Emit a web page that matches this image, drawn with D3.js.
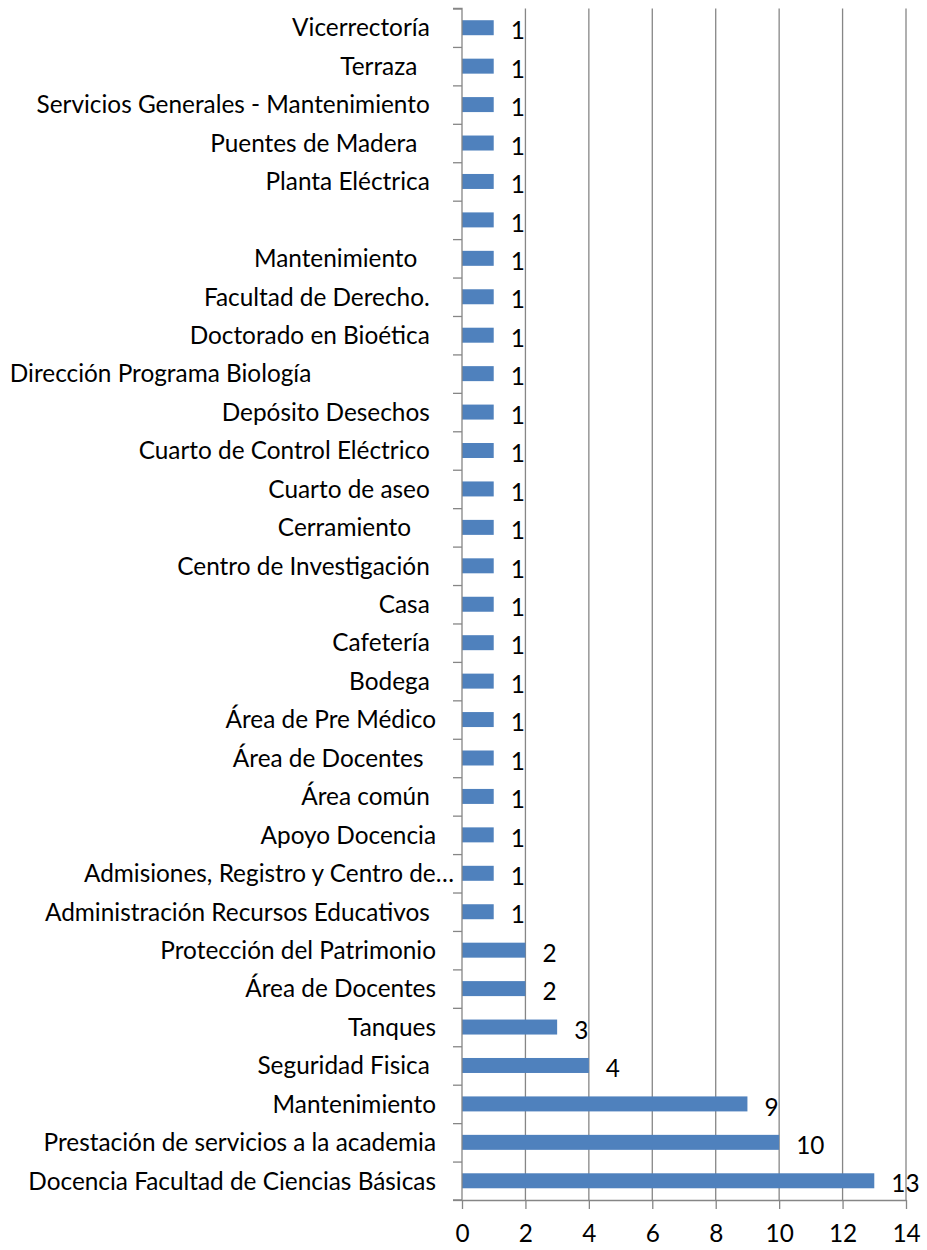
<!DOCTYPE html>
<html lang="es">
<head>
<meta charset="UTF-8">
<title>Barras</title>
<script src="https://d3js.org/d3.v7.min.js"></script>
<style>
  body { margin: 0; background: #fff; }
  text { white-space: pre; font-family: Lato, "Open Sans", sans-serif; fill: #000; }
</style>
</head>
<body>
<script>
// categories from top to bottom (trailing spaces are part of the original labels)
var categories = [
  "Vicerrectoría ",
  "Terraza   ",
  "Servicios Generales - Mantenimiento ",
  "Puentes de Madera   ",
  "Planta Eléctrica ",
  "",
  "Mantenimiento   ",
  "Facultad de Derecho. ",
  "Doctorado en Bioética ",
  "Dirección Programa Biología                    ",
  "Depósito Desechos ",
  "Cuarto de Control Eléctrico ",
  "Cuarto de aseo ",
  "Cerramiento    ",
  "Centro de Investigación ",
  "Casa ",
  "Cafetería ",
  "Bodega ",
  "Área de Pre Médico",
  "Área de Docentes  ",
  "Área común ",
  "Apoyo Docencia",
  "Admisiones, Registro y Centro de…",
  "Administración Recursos Educativos ",
  "Protección del Patrimonio",
  "Área de Docentes",
  "Tanques",
  "Seguridad Fisica ",
  "Mantenimiento",
  "Prestación de servicios a la academia",
  "Docencia Facultad de Ciencias Básicas"
];
var values = [1,1,1,1,1,1,1,1,1,1,1,1,1,1,1,1,1,1,1,1,1,1,1,1,2,2,3,4,9,10,13];
var xTicks = [0, 2, 4, 6, 8, 10, 12, 14];

var width = 927, height = 1250;
var plotLeft = 462, plotRight = 906, plotTop = 8.5, plotBottom = 1200;
var gridColor = "#868686", barColor = "#4F81BD";

var svg = d3.select("body").append("svg")
  .attr("width", width)
  .attr("height", height);

// fit font size so the longest label has the width of the original
var probe = svg.append("text").style("font-size", "25px").text("Docencia Facultad de Ciencias Básicas");
var fs = 25 * 408 / probe.node().getComputedTextLength();
probe.remove();

var x = d3.scaleLinear().domain([0, 14]).range([plotLeft, plotRight]);
var idx = d3.range(categories.length);
var y = d3.scaleBand().domain(idx).range([plotTop, plotBottom]).paddingInner(0.61).paddingOuter(0.305);
var yEdge = d3.scaleLinear().domain([0, categories.length]).range([plotTop, plotBottom]);

// vertical gridlines
svg.append("g").selectAll("line")
  .data(xTicks.filter(function (d) { return d > 0; }))
  .join("line")
  .attr("x1", function (d) { return x(d); })
  .attr("x2", function (d) { return x(d); })
  .attr("y1", plotTop)
  .attr("y2", plotBottom)
  .attr("stroke", gridColor)
  .attr("stroke-width", 1.3);

// bars
svg.append("g").selectAll("rect")
  .data(idx)
  .join("rect")
  .attr("x", x(0))
  .attr("y", function (i) { return y(i); })
  .attr("width", function (i) { return x(values[i]) - x(0); })
  .attr("height", y.bandwidth())
  .attr("fill", barColor);

// value labels
svg.append("g").selectAll("text")
  .data(idx)
  .join("text")
  .attr("x", function (i) { return x(values[i]) + 17; })
  .attr("y", function (i) { return y(i) + y.bandwidth() / 2; })
  .attr("dy", "0.48em")
  .style("font-size", fs + "px")
  .text(function (i) { return values[i]; });

// category axis: line with ticks between categories
var yAxis = svg.append("g")
  .attr("transform", "translate(" + plotLeft + ",0)")
  .call(d3.axisLeft(yEdge).tickValues(d3.range(categories.length + 1)).tickSize(9).tickFormat(""));
yAxis.selectAll("path, line").attr("stroke", gridColor).attr("stroke-width", 1.3);
yAxis.select("path").attr("d", "M-9," + plotTop + "H0V" + plotBottom + "H-9");

// category labels
svg.append("g").selectAll("text")
  .data(idx)
  .join("text")
  .attr("x", function (i) { return categories[i].slice(-1) == "…" ? plotLeft - 8 : plotLeft - 26; })
  .attr("y", function (i) { return y(i) + y.bandwidth() / 2; })
  .attr("dy", "0.36em")
  .attr("text-anchor", "end")
  .style("font-size", fs + "px")
  .text(function (i) { return categories[i]; });

// value axis
var xAxis = svg.append("g")
  .attr("transform", "translate(0," + plotBottom + ")")
  .call(d3.axisBottom(x).tickValues(xTicks).tickSize(9).tickSizeOuter(0).tickPadding(16));
xAxis.selectAll("path, line").attr("stroke", gridColor).attr("stroke-width", 1.3);
xAxis.selectAll("text")
  .attr("dy", "0.7em")
  .style("font-size", fs + "px")
  .style("font-family", "Lato, sans-serif")
  .attr("fill", "#000");
</script>
</body>
</html>
